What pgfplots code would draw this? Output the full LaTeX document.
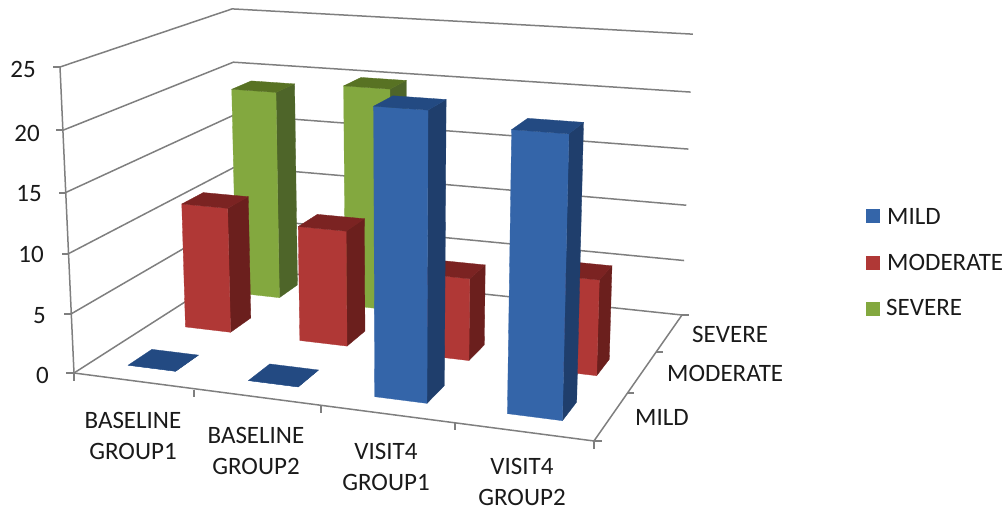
\documentclass[border=0pt]{standalone}
\usepackage{fontspec}
\setmainfont{Carlito}
\usepackage{pgfplots}
\pgfplotsset{compat=1.18}

\definecolor{blueF}{HTML}{3465A9}
\definecolor{blueS}{HTML}{1F3E6C}
\definecolor{blueT}{HTML}{234A82}
\definecolor{redF}{HTML}{B03836}
\definecolor{redS}{HTML}{6B1F1D}
\definecolor{redT}{HTML}{7B2322}
\definecolor{greenF}{HTML}{83A83F}
\definecolor{greenS}{HTML}{4E6529}
\definecolor{greenT}{HTML}{587223}
\definecolor{gridc}{HTML}{7F7F7F}
\definecolor{textc}{HTML}{1A1A1A}

% Perspective projection of the chart box onto the page:
% u = category/4, v = row/3, t = value/25.
\pgfkeys{/pgf/declare function={
  pw(\u,\v,\t)=-0.09574*\u+0.19015*\v+1-0.041*\t;
  px(\u,\v,\t)=(463.13*\u+209.26*\v+74-16.46*\t)/pw(\u,\v,\t);
  py(\u,\v,\t)=(25.78*\u-54.04*\v+373-308.75*\t)/pw(\u,\v,\t);
}}

% \proj{name}{category}{row}{value} stores the projected point in \name
\newcommand\proj[4]{%
  \pgfmathsetmacro\Pu{(#2)/4}%
  \pgfmathsetmacro\Pv{(#3)/3}%
  \pgfmathsetmacro\Pt{(#4)/25}%
  \pgfmathsetmacro\Px{px(\Pu,\Pv,\Pt)}%
  \pgfmathsetmacro\Py{py(\Pu,\Pv,\Pt)}%
  \expandafter\edef\csname #1\endcsname{(\Px,\Py)}%
}
% One filled quadrilateral face of a column
\newcommand\face[5]{%
  \edef\next{\noexpand\addplot[fill=#1,draw=#1,line width=0.3pt,forget plot]
    coordinates {#2 #3 #4 #5} -- cycle;}\next
}
% \column{category}{row}{value}{colour prefix}
\newcommand\column[4]{%
  \pgfmathsetmacro\xa{#1+0.3}\pgfmathsetmacro\xb{#1+0.7}%
  \pgfmathsetmacro\ya{#2+0.3}\pgfmathsetmacro\yb{#2+0.7}%
  \proj{Aa}{\xa}{\ya}{0}\proj{Ab}{\xb}{\ya}{0}\proj{Ac}{\xb}{\yb}{0}%
  \proj{Ba}{\xa}{\ya}{#3}\proj{Bb}{\xb}{\ya}{#3}\proj{Bc}{\xb}{\yb}{#3}\proj{Bd}{\xa}{\yb}{#3}%
  \face{#4S}{\Ab}{\Ac}{\Bc}{\Bb}%
  \face{#4F}{\Aa}{\Ab}{\Bb}{\Ba}%
  \face{#4T}{\Ba}{\Bb}{\Bc}{\Bd}%
}
% Line through three projected points
\newcommand\segs[3]{%
  \edef\next{\noexpand\addplot[gridc,line width=1.5pt,forget plot]
    coordinates {#1 #2 #3};}\next
}
% Gridline at one value, along the left wall and the back wall
\newcommand\gridat[1]{%
  \proj{Ga}{0}{0}{#1}\proj{Gb}{0}{3}{#1}\proj{Gc}{4}{3}{#1}%
  \segs{\Ga}{\Gb}{\Gc}%
}

\begin{document}
\begin{tikzpicture}
\begin{axis}[
  scale only axis,
  width=1007pt, height=512pt,
  xmin=0, xmax=1007, ymin=0, ymax=512,
  y dir=reverse,
  hide axis,
  clip=false,
]
\path (rel axis cs:0,0) rectangle (rel axis cs:1,1);

% walls and floor
\gridat{0}\gridat{5}\gridat{10}\gridat{15}\gridat{20}\gridat{25}
\proj{La}{0}{0}{25}\proj{Lb}{0}{0}{0}\proj{Lc}{4}{0}{0}\proj{Ld}{4}{3}{0}
\segs{\La}{\Lb}{\Lc}
\segs{\Lc}{\Ld}{\Ld}

% tick stubs: value axis
\addplot[gridc,line width=1.4pt,forget plot] coordinates {(53,67) (60,67)};
\addplot[gridc,line width=1.4pt,forget plot] coordinates {(56,130) (63,130)};
\addplot[gridc,line width=1.4pt,forget plot] coordinates {(59,193) (66,193)};
\addplot[gridc,line width=1.4pt,forget plot] coordinates {(62,254) (69,254)};
\addplot[gridc,line width=1.4pt,forget plot] coordinates {(64,314) (71,314)};
\addplot[gridc,line width=1.4pt,forget plot] coordinates {(66,373) (74,373)};
% tick stubs: category axis
\addplot[gridc,line width=1.4pt,forget plot] coordinates {(74,373) (74,381)};
\addplot[gridc,line width=1.4pt,forget plot] coordinates {(194,390) (194,397)};
\addplot[gridc,line width=1.4pt,forget plot] coordinates {(321,406) (321,413)};
\addplot[gridc,line width=1.4pt,forget plot] coordinates {(455,423) (455,430)};
\addplot[gridc,line width=1.4pt,forget plot] coordinates {(594,441) (594,449)};
% tick stubs: depth axis
\addplot[gridc,line width=1.4pt,forget plot] coordinates {(594,441) (602,441)};
\addplot[gridc,line width=1.4pt,forget plot] coordinates {(627,393) (634,393)};
\addplot[gridc,line width=1.4pt,forget plot] coordinates {(656,352) (663,352)};
\addplot[gridc,line width=1.4pt,forget plot] coordinates {(682,315) (689,315)};

% SEVERE row (the two VISIT4 values are empty)
\column{1}{2}{20}{green}
\column{0}{2}{19}{green}
% MODERATE row
\column{3}{1}{8}{red}
\column{2}{1}{7}{red}
\column{1}{1}{10}{red}
\column{0}{1}{11}{red}
% MILD row
\column{3}{0}{22}{blue}
\column{2}{0}{23}{blue}
\column{1}{0}{0}{blue}
\column{0}{0}{0}{blue}

% legend keys
\addplot[fill=blueF,draw=none,forget plot] coordinates {(866,209) (880,209) (880,223) (866,223)} -- cycle;
\addplot[fill=redF,draw=none,forget plot] coordinates {(866,256) (880,256) (880,270) (866,270)} -- cycle;
\addplot[fill=greenF,draw=none,forget plot] coordinates {(866,302) (880,302) (880,316) (866,316)} -- cycle;

\begin{scope}[every node/.style={font=\fontsize{25}{31}\selectfont,text=textc,inner sep=0pt}]
\node[anchor=east] at (axis cs:36,69) {25};
\node[anchor=east] at (axis cs:40,133) {20};
\node[anchor=east] at (axis cs:42,194) {15};
\node[anchor=east] at (axis cs:44,254) {10};
\node[anchor=east] at (axis cs:46,316) {5};
\node[anchor=east] at (axis cs:49,375) {0};

\node[align=center] at (axis cs:133,436) {BASELINE\\GROUP1};
\node[align=center] at (axis cs:256,451) {BASELINE\\GROUP2};
\node[align=center] at (axis cs:386,467) {VISIT4\\GROUP1};
\node[align=center] at (axis cs:522,482) {VISIT4\\GROUP2};

\node[anchor=west] at (axis cs:635,417) {MILD};
\node[anchor=west] at (axis cs:667,373) {MODERATE};
\node[anchor=west] at (axis cs:692,334) {SEVERE};

\node[anchor=west] at (axis cs:887,216) {MILD};
\node[anchor=west] at (axis cs:887,262) {MODERATE};
\node[anchor=west] at (axis cs:886,307) {SEVERE};
\end{scope}
\end{axis}
\end{tikzpicture}
\end{document}
